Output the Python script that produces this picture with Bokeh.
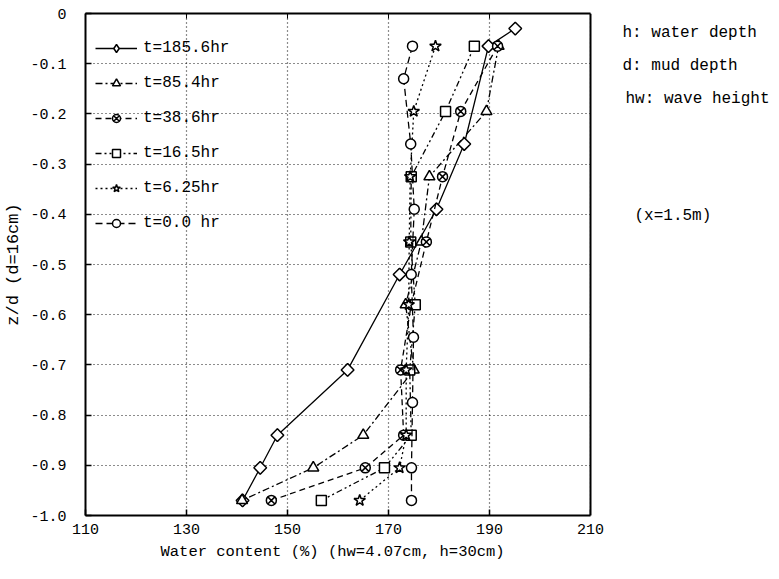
import math
from bokeh.plotting import figure
from bokeh.models import (FixedTicker, Legend, LegendItem, LinearAxis, Range1d, Title,
                          Label, Span, BoxAnnotation)
from bokeh.embed import file_html
from bokeh.resources import INLINE

# ---- data ----
depth_185 = [-0.03, -0.065, -0.26, -0.39, -0.52, -0.71, -0.84, -0.905, -0.97]
wc_185    = [195.1, 189.8, 185.0, 179.5, 172.2, 161.9, 148.0, 144.6, 141.1]

depth_85 = [-0.065, -0.195, -0.325, -0.455, -0.58, -0.71, -0.84, -0.905, -0.97]
wc_85    = [191.8, 189.4, 178.1, 176.5, 173.4, 175.0, 165.0, 155.1, 141.0]

depth_38 = [-0.065, -0.195, -0.325, -0.455, -0.58, -0.71, -0.84, -0.905, -0.97]
wc_38    = [191.6, 184.3, 180.7, 177.5, 174.5, 172.4, 173.0, 165.4, 146.8]

depth_16 = [-0.065, -0.195, -0.325, -0.455, -0.58, -0.71, -0.84, -0.905, -0.97]
wc_16    = [187.0, 181.3, 174.5, 174.4, 175.3, 174.2, 174.5, 169.2, 156.7]

depth_6 = [-0.065, -0.195, -0.325, -0.455, -0.58, -0.71, -0.84, -0.905, -0.97]
wc_6    = [179.3, 175.0, 174.3, 174.1, 174.0, 173.5, 173.5, 172.2, 164.3]

depth_0 = [-0.065, -0.13, -0.26, -0.39, -0.52, -0.645, -0.775, -0.905, -0.97]
wc_0    = [174.75, 173.0, 174.4, 175.1, 174.5, 174.95, 174.75, 174.55, 174.55]

x_ticks = [110, 130, 150, 170, 190, 210]
y_ticks = [0, -0.1, -0.2, -0.3, -0.4, -0.5, -0.6, -0.7, -0.8, -0.9, -1.0]
y_tick_labels = ["0", "-0.1", "-0.2", "-0.3", "-0.4", "-0.5", "-0.6", "-0.7", "-0.8", "-0.9", "-1.0"]

notes = ["h: water depth", "d: mud depth", "hw: wave height", "(x=1.5m)"]
x_title = "Water content (%) (hw=4.07cm, h=30cm)"
y_title = "z/d (d=16cm)"

FONT = "Liberation Mono"
X0, X1 = 110, 210            # plotted x extent (box)
LEFT, FW, FH, TOP = 85, 694, 502, 13
PX_PER_UNIT = 505 / (X1 - X0)
x_end = X0 + FW / PX_PER_UNIT  # frame extends right to hold the side notes

p = figure(frame_width=FW, frame_height=FH, output_backend="svg", toolbar_location=None,
           x_range=Range1d(X0, x_end), y_range=Range1d(-1.0, 0),
           min_border_left=LEFT, min_border_right=0, min_border_top=TOP, min_border_bottom=64)
p.background_fill_color = "white"
p.border_fill_color = "white"
p.outline_line_color = None

# axes
p.xaxis.ticker = FixedTicker(ticks=x_ticks)
p.xaxis.bounds = (X0, X1)
p.yaxis.ticker = FixedTicker(ticks=y_ticks)
p.yaxis.major_label_overrides = {t: l for t, l in zip(y_ticks, y_tick_labels)}
for ax in (p.xaxis[0], p.yaxis[0]):
    ax.axis_line_color = "black"
    ax.axis_line_width = 2
    ax.major_tick_in = 6
    ax.major_tick_out = 0
    ax.minor_tick_line_color = None
    ax.major_tick_line_color = "black"
    ax.major_tick_line_width = 1.5
    ax.major_label_text_font = FONT
    ax.major_label_text_font_size = "15px"
    ax.major_label_text_color = "black"
    ax.axis_label_text_font = FONT
    ax.axis_label_text_font_size = "17px"
    ax.axis_label_text_font_style = "normal"
    ax.axis_label_text_color = "black"
p.yaxis.major_label_standoff = 19
p.xaxis.major_label_standoff = 8
p.yaxis.axis_label = y_title
p.yaxis.axis_label_standoff = 4

# top border with inward ticks
tax = LinearAxis(ticker=FixedTicker(ticks=x_ticks), bounds=(X0, X1))
tax.major_label_overrides = {t: "" for t in x_ticks}
tax.major_label_text_font_size = "0px"
tax.major_label_standoff = 0
tax.major_tick_in = 5
tax.major_tick_out = 0
tax.minor_tick_line_color = None
tax.axis_line_width = 2
p.add_layout(tax, "above")

# grid
p.xgrid.ticker = FixedTicker(ticks=x_ticks)
p.ygrid.ticker = FixedTicker(ticks=y_ticks)
for g in (p.xgrid[0], p.ygrid[0]):
    g.grid_line_color = "black"
    g.grid_line_dash = "1 3"
    g.grid_line_width = 1.2
    g.grid_line_alpha = 0.9

# blank out the area right of the box, then draw the right border
p.add_layout(BoxAnnotation(left=X1, fill_color="white", fill_alpha=1.0, line_alpha=0))
p.add_layout(Span(location=X1, dimension="height", line_color="black", line_width=2))

series = [
    ("t=185.6hr", wc_185, depth_185, "diamond", 12, "solid"),
    ("t=85.4hr",  wc_85,  depth_85,  "triangle", 11, "7 3 2 3"),
    ("t=38.6hr",  wc_38,  depth_38,  "circle_x", 10, "6 4"),
    ("t=16.5hr",  wc_16,  depth_16,  "square", 10, "6 3 2 3 2 3"),
    ("t=6.25hr",  wc_6,   depth_6,   "star", 12, "2 3"),
    ("t=0.0 hr",  wc_0,   depth_0,   "circle", 10, "7 4"),
]

items = []
for label, xs, ys, marker, size, dash in series:
    r1 = p.line(xs, ys, line_color="black", line_width=1.3, line_dash=dash)
    r2 = p.scatter(xs, ys, marker=marker, size=size,
                   fill_color="white", line_color="black", line_width=1.5)
    if marker == "diamond":
        # square-shaped diamonds (rotated squares) drawn over the legend's diamond marker
        p.scatter(xs, ys, marker="square", size=9, angle=math.pi / 4,
                  fill_color="white", line_color="black", line_width=1.5)
    items.append(LegendItem(label=label, renderers=[r1, r2]))

legend = Legend(items=items, location=(5, 277), orientation="vertical")
legend.background_fill_alpha = 0
legend.border_line_alpha = 0
legend.padding = 5
legend.margin = 0
legend.spacing = 15
legend.glyph_width = 42
legend.glyph_height = 20
legend.label_height = 20
legend.label_standoff = 6
legend.label_text_font = FONT
legend.label_text_font_size = "16px"
legend.label_text_color = "black"
p.add_layout(legend, "center")

# notes to the right of the box (canvas pixels, y measured from the top)
note_pos = [(622, 32), (622, 65), (625, 98), (634, 215)]
for (nx, ny), t in zip(note_pos, notes):
    p.add_layout(Label(x=nx, y=ny, x_units="canvas", y_units="canvas", text=t,
                       text_align="left", text_baseline="middle",
                       text_font=FONT, text_font_size="16px", text_color="black"))

# x-axis title below the axis, offset to match the reference position
xt = Title(text=x_title, align="left", offset=75, text_font=FONT, text_font_size="15.5px",
           text_font_style="normal", text_color="black", standoff=8)
p.add_layout(xt, "below")

open("out.html", "w").write(file_html(p, INLINE))
